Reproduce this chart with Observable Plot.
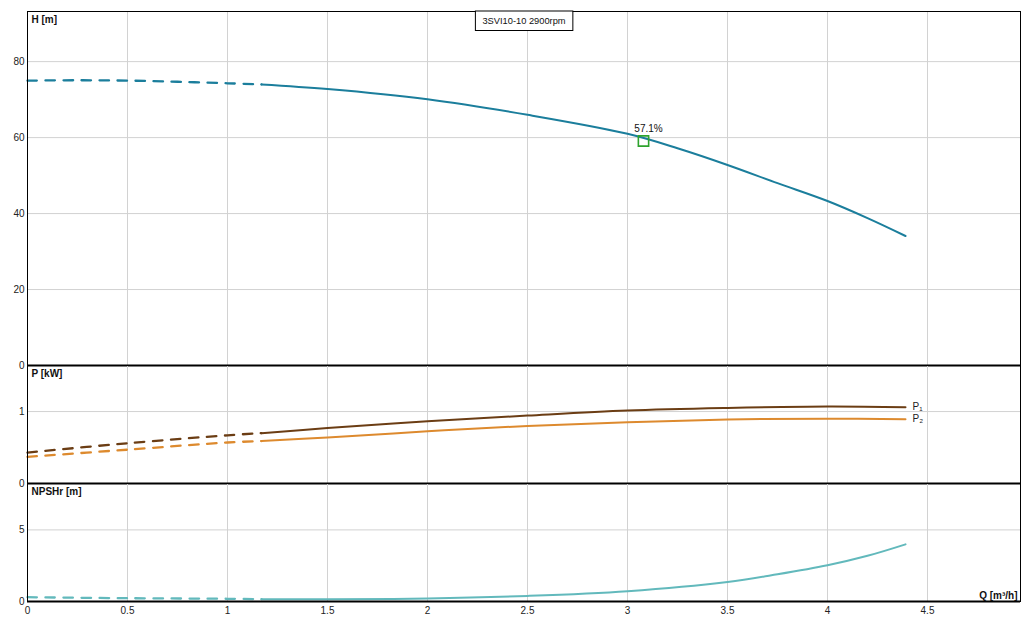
<!DOCTYPE html>
<html>
<head>
<meta charset="utf-8">
<script src="https://cdn.jsdelivr.net/npm/d3@7"></script>
<script src="https://cdn.jsdelivr.net/npm/@observablehq/plot@0.6"></script>
<style>
  html, body { margin: 0; padding: 0; background: #fff; }
  #chart { position: relative; width: 1035px; height: 627px; overflow: hidden; }
  #chart > svg { position: absolute; left: 0; }
</style>
</head>
<body>
<div id="chart"></div>
<script>
// ---- data ----
const title = "3SVI10-10 2900rpm";
const qSplit = 1.17; // end of dashed (extrapolated) part

const qH = [0, 0.25, 0.5, 0.75, 1, 1.17, 1.5, 2, 2.5, 3, 3.25, 3.5, 3.75, 4, 4.2, 4.39];
const hVals = [75.0, 75.1, 75.0, 74.7, 74.3, 74.0, 72.8, 70.1, 66.0, 61.0, 57.2, 52.8, 48.0, 43.3, 38.8, 34.1];

const qP = [0, 0.5, 1, 1.17, 1.5, 2, 2.5, 3, 3.5, 4, 4.39];
const p1Vals = [0.43, 0.56, 0.67, 0.70, 0.77, 0.865, 0.944, 1.014, 1.05, 1.07, 1.06];
const p2Vals = [0.37, 0.47, 0.57, 0.59, 0.64, 0.725, 0.80, 0.85, 0.888, 0.90, 0.893];

const qN = [0, 0.5, 1, 1.17, 1.5, 2, 2.5, 3, 3.5, 3.75, 4, 4.2, 4.39];
const nVals = [0.30, 0.23, 0.19, 0.16, 0.15, 0.21, 0.39, 0.72, 1.36, 1.90, 2.53, 3.19, 3.99];

const effPoint = [{q: 3.08, h: 59.1, label: "57.1%"}];

const xTicks = [0, 0.5, 1, 1.5, 2, 2.5, 3, 3.5, 4, 4.5];
const xGrid = [0.5, 1, 1.5, 2, 2.5, 3, 3.5, 4, 4.5];
const hTicks = [0, 20, 40, 60, 80];
const pTicks = [0, 1];
const nTicks = [0, 5];

const xDomain = [0, 4.965];
const hDomain = [0, 93.2];
const pDomain = [0, 1.64];
const nDomain = [0, 8.24];

// ---- styles ----
const font = "'Liberation Sans', Arial, sans-serif";
const gridColor = "#d2d2d2";
const cH = "#1b7e9c", cP1 = "#6b3d14", cP2 = "#dd8a2e", cN = "#62b9bc", cEff = "#2ea32e";
const dash = "9.5,8.5";
const fmt = d => String(d);

const toPts = (qs, vs) => qs.map((q, i) => ({q, v: vs[i]}));
const dashedPart = pts => pts.filter(d => d.q <= qSplit);
const solidPart = pts => pts.filter(d => d.q >= qSplit);

const baseStyle = {fontFamily: font, fontSize: "10px", overflow: "visible", background: "transparent", color: "#222"};
const common = {width: 1035, marginLeft: 27, marginRight: 15, x: {domain: xDomain}};

function curveMarks(pts, color) {
  return [
    Plot.line(dashedPart(pts), {x: "q", y: "v", stroke: color, strokeWidth: 2.3, strokeDasharray: dash, curve: "catmull-rom"}),
    Plot.line(solidPart(pts), {x: "q", y: "v", stroke: color, strokeWidth: 2, curve: "catmull-rom"})
  ];
}

function panelLabel(text) {
  return Plot.text([text], {frameAnchor: "top-left", dx: 4, dy: 4, text: d => d, textAnchor: "start", lineAnchor: "top", fontWeight: "bold", fontSize: 10, fill: "#111"});
}

const hPts = toPts(qH, hVals);
const p1Pts = toPts(qP, p1Vals);
const p2Pts = toPts(qP, p2Vals);
const nPts = toPts(qN, nVals);

// ---- H panel ----
const hPlot = Plot.plot({
  ...common, height: 366, marginTop: 11, marginBottom: 1,
  style: baseStyle,
  y: {domain: hDomain},
  marks: [
    Plot.gridX(xGrid, {stroke: gridColor, strokeOpacity: 1}),
    Plot.gridY(hTicks.filter(d => d > 0), {stroke: gridColor, strokeOpacity: 1}),
    Plot.axisY(hTicks, {tickSize: 0, tickPadding: 3, label: null, fontSize: 10, tickFormat: fmt}),
    Plot.axisX({ticks: [], label: null, tickSize: 0}),
    ...curveMarks(hPts, cH),
    Plot.dot(effPoint, {x: "q", y: "h", symbol: "square", r: 5.8, stroke: cEff, strokeWidth: 1.6, fill: "none"}),
    Plot.text(effPoint, {x: "q", y: "h", text: "label", dx: 5, dy: -12, fontSize: 10, fill: "#111"}),
    Plot.frame({stroke: "black", strokeWidth: 1}),
    Plot.ruleY([0], {stroke: "black", strokeWidth: 2}),
    Plot.text([title], {frameAnchor: "top", dy: 10, text: d => d, lineAnchor: "middle", fontSize: 9.3, fill: "#111"}),
    panelLabel("H [m]")
  ]
});

// ---- P panel ----
const pEnd = [
  {q: qP[qP.length - 1], v: p1Vals[p1Vals.length - 1], label: "P\u2081"},
  {q: qP[qP.length - 1], v: p2Vals[p2Vals.length - 1], label: "P\u2082"}
];
const pPlot = Plot.plot({
  ...common, height: 119, marginTop: 0, marginBottom: 1,
  style: baseStyle,
  y: {domain: pDomain},
  marks: [
    Plot.gridX(xGrid, {stroke: gridColor, strokeOpacity: 1}),
    Plot.gridY([1], {stroke: gridColor, strokeOpacity: 1}),
    Plot.axisY(pTicks, {tickSize: 0, tickPadding: 3, label: null, fontSize: 10, tickFormat: fmt}),
    Plot.axisX({ticks: [], label: null, tickSize: 0}),
    ...curveMarks(p1Pts, cP1),
    ...curveMarks(p2Pts, cP2),
    Plot.text(pEnd, {x: "q", y: "v", text: "label", dx: 7, textAnchor: "start", fontSize: 10, fill: "#222"}),
    Plot.frame({stroke: "black", strokeWidth: 1}),
    Plot.ruleY([0], {stroke: "black", strokeWidth: 2}),
    panelLabel("P [kW]")
  ]
});

// ---- NPSHr panel ----
const nPlot = Plot.plot({
  ...common, height: 144, marginTop: 0, marginBottom: 26,
  style: baseStyle,
  y: {domain: nDomain},
  marks: [
    Plot.gridX(xGrid, {stroke: gridColor, strokeOpacity: 1}),
    Plot.gridY([5], {stroke: gridColor, strokeOpacity: 1}),
    Plot.axisY(nTicks, {tickSize: 0, tickPadding: 3, label: null, fontSize: 10, tickFormat: fmt}),
    Plot.axisX(xTicks, {tickSize: 0, tickPadding: 5, label: null, fontSize: 10, tickFormat: fmt}),
    ...curveMarks(nPts, cN),
    Plot.frame({stroke: "black", strokeWidth: 1}),
    Plot.ruleY([0], {stroke: "black", strokeWidth: 2}),
    panelLabel("NPSHr [m]"),
    Plot.text(["Q [m\u00b3/h]"], {frameAnchor: "bottom-right", dx: -3, dy: -3, text: d => d, textAnchor: "end", lineAnchor: "bottom", fontWeight: "bold", fontSize: 10, fill: "#111"})
  ]
});

const chart = document.getElementById("chart");
hPlot.style.top = "0px";
pPlot.style.top = "365px";
nPlot.style.top = "483px";
chart.appendChild(hPlot);
chart.appendChild(pPlot);
chart.appendChild(nPlot);

// title box around the model name (measured in screen space of the H panel)
const svgBox = hPlot.getBoundingClientRect();
d3.select(hPlot).selectAll("text").filter(function() { return this.textContent === title; }).each(function() {
  const r = this.getBoundingClientRect();
  const group = this.closest("g") || this;
  d3.select(hPlot).insert("rect", () => group)
    .attr("x", r.left - svgBox.left - 7).attr("y", 11)
    .attr("width", r.width + 14).attr("height", 19.5)
    .attr("fill", "white").attr("stroke", "black").attr("stroke-width", 1);
});
</script>
</body>
</html>
